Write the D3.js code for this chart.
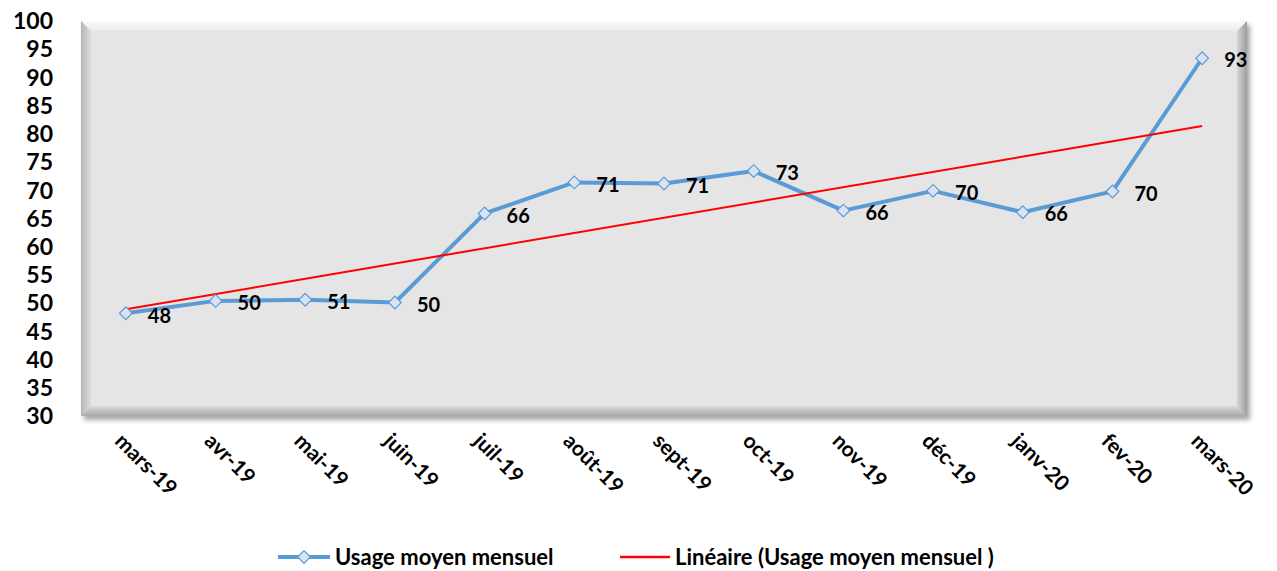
<!DOCTYPE html>
<html>
<head>
<meta charset="utf-8">
<script src="https://cdn.jsdelivr.net/npm/d3@7"></script>
<style>
  body { margin: 0; background: #fff; }
  text { font-family: Lato, "Open Sans", sans-serif; font-weight: 700; fill: #000; }
</style>
</head>
<body>
<div id="chart"></div>
<script>
// months on the x axis
var months = ["mars-19", "avr-19", "mai-19", "juin-19", "juil-19", "août-19", "sept-19",
  "oct-19", "nov-19", "déc-19", "janv-20", "fev-20", "mars-20"];
// monthly average usage
var usage = [48.2, 50.4, 50.6, 50.1, 65.9, 71.4, 71.2, 73.4, 66.4, 69.9, 66.1, 69.8, 93.4];
// y tick labels
var yTicks = [30, 35, 40, 45, 50, 55, 60, 65, 70, 75, 80, 85, 90, 95, 100];

var W = 1277, H = 571;
var margin = { top: 21, right: 30, bottom: 155, left: 81 },
  width = W - margin.left - margin.right,
  height = H - margin.top - margin.bottom;

var data = months.map(function(m, i) { return { month: m, value: usage[i], i: i }; });

var x = d3.scaleBand().domain(months).range([0, width]);
var y = d3.scaleLinear().domain([30, 100]).range([height, 0]);

// linear trend (least squares), like Excel's "Linéaire"
var n = usage.length;
var mx = d3.mean(data, function(d) { return d.i; });
var my = d3.mean(usage);
var slope = d3.sum(data, function(d) { return (d.i - mx) * (d.value - my); }) /
  d3.sum(data, function(d) { return (d.i - mx) * (d.i - mx); });
var trend = [0, n - 1].map(function(i) { return { month: months[i], value: my + slope * (i - mx) }; });

var svg = d3.select("#chart").append("svg")
  .attr("width", W).attr("height", H);

var defs = svg.append("defs");
var shadow = defs.append("filter").attr("id", "shadow")
  .attr("x", "-5%").attr("y", "-5%").attr("width", "110%").attr("height", "115%");
shadow.append("feGaussianBlur").attr("in", "SourceAlpha").attr("stdDeviation", 2.5);
shadow.append("feOffset").attr("dx", 3).attr("dy", 4).attr("result", "off");
shadow.append("feComponentTransfer").append("feFuncA").attr("type", "linear").attr("slope", 0.35);
var fm = shadow.append("feMerge");
fm.append("feMergeNode");
fm.append("feMergeNode").attr("in", "SourceGraphic");

// bevel gradients
function grad(id, x1, y1, x2, y2, c1, c2) {
  var g = defs.append("linearGradient").attr("id", id)
    .attr("x1", x1).attr("y1", y1).attr("x2", x2).attr("y2", y2);
  g.append("stop").attr("offset", "0%").attr("stop-color", c1);
  g.append("stop").attr("offset", "100%").attr("stop-color", c2);
}
grad("gTop", 0, 0, 0, 1, "#fbfbfb", "#ececec");
grad("gLeft", 0, 0, 1, 0, "#b4b4b4", "#dedede");
grad("gBottom", 0, 1, 0, 0, "#a9a9a9", "#d9d9d9");
grad("gRight", 1, 0, 0, 0, "#9c9c9c", "#d6d6d6");

var g = svg.append("g")
  .attr("transform", "translate(" + margin.left + "," + margin.top + ")");

// plot area with bevel
var b = 10;
g.append("rect").attr("width", width).attr("height", height)
  .attr("fill", "#e4e4e4").attr("filter", "url(#shadow)");
g.append("polygon").attr("fill", "url(#gTop)")
  .attr("points", [[0, 0], [width, 0], [width - b, b], [b, b]].join(" "));
g.append("polygon").attr("fill", "url(#gLeft)")
  .attr("points", [[0, 0], [b, b], [b, height - b], [0, height]].join(" "));
g.append("polygon").attr("fill", "url(#gBottom)")
  .attr("points", [[0, height], [b, height - b], [width - b, height - b], [width, height]].join(" "));
g.append("polygon").attr("fill", "url(#gRight)")
  .attr("points", [[width, 0], [width, height], [width - b, height - b], [width - b, b]].join(" "));
g.append("rect").attr("x", b).attr("y", b)
  .attr("width", width - 2 * b).attr("height", height - 2 * b)
  .attr("fill", "#e5e5e5");

// y axis labels
g.append("g").selectAll("text").data(yTicks).enter().append("text")
  .attr("x", -28).attr("y", function(d) { return y(d); })
  .attr("dy", "0.36em")
  .attr("text-anchor", "end")
  .style("font-size", "23px")
  .text(function(d) { return d; });

// x axis labels, rotated
g.append("g").selectAll("text").data(months).enter().append("text")
  .attr("transform", function(d) {
    return "translate(" + (x(d) + x.bandwidth() / 2 - 7) + "," + (height + 21) + ") rotate(45)";
  })
  .attr("text-anchor", "start")
  .attr("dy", "0.35em")
  .style("font-size", "21px")
  .text(function(d) { return d; });

var line = d3.line()
  .x(function(d) { return x(d.month) + x.bandwidth() / 2; })
  .y(function(d) { return y(d.value); });

// series line
g.append("path").datum(data)
  .attr("fill", "none").attr("stroke", "#5b9bd5")
  .attr("stroke-width", 4).attr("stroke-linejoin", "round")
  .attr("d", line);

// trend line
g.append("path").datum(trend)
  .attr("fill", "none").attr("stroke", "#ff0000")
  .attr("stroke-width", 2)
  .attr("d", line);

// diamond markers
var diamond = d3.symbol().type(d3.symbolSquare).size(81);
g.selectAll(".dot").data(data).enter().append("path")
  .attr("class", "dot")
  .attr("d", diamond)
  .attr("transform", function(d) {
    return "translate(" + (x(d.month) + x.bandwidth() / 2) + "," + y(d.value) + ") rotate(45)";
  })
  .attr("fill", "#dae3f3").attr("stroke", "#5b9bd5").attr("stroke-width", 1.2);

// data labels
g.selectAll(".lbl").data(data).enter().append("text")
  .attr("class", "lbl")
  .attr("x", function(d) { return x(d.month) + x.bandwidth() / 2 + 22; })
  .attr("y", function(d) { return y(d.value) + 2; })
  .attr("dy", "0.36em")
  .style("font-size", "20px")
  .text(function(d) { return Math.round(d.value); });

// legend
var leg = svg.append("g").attr("transform", "translate(0,557)");
leg.append("line").attr("x1", 278).attr("x2", 330)
  .attr("stroke", "#5b9bd5").attr("stroke-width", 4);
leg.append("path").attr("d", diamond)
  .attr("transform", "translate(304,0) rotate(45)")
  .attr("fill", "#dae3f3").attr("stroke", "#5b9bd5").attr("stroke-width", 1.2);
leg.append("text").attr("x", 335).attr("dy", "0.35em")
  .style("font-size", "22px").text("Usage moyen mensuel");
leg.append("line").attr("x1", 620).attr("x2", 670)
  .attr("stroke", "#ff0000").attr("stroke-width", 2.5);
leg.append("text").attr("x", 675).attr("dy", "0.35em")
  .style("font-size", "22px").text("Linéaire (Usage moyen mensuel )");
</script>
</body>
</html>
